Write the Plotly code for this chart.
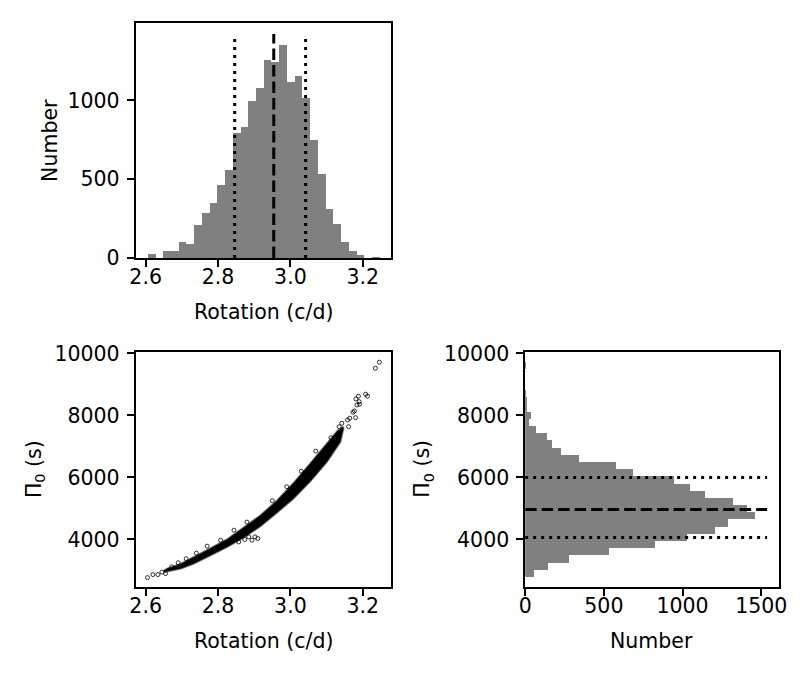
import plotly.graph_objects as go

# ---------------- data ----------------
# Rotation histogram (30 bins)
rot_bin_start = 2.6046
rot_bin_width = 0.021367
rot_counts = [27, 0, 48, 48, 99, 90, 210, 288, 349, 465, 557, 795, 829, 995, 1081,
              1258, 1245, 1353, 1115, 1151, 1016, 747, 532, 311, 219, 99, 48, 21, 0, 8]
rot_quantiles = [2.846, 2.954, 3.042]      # 16%, 50%, 84%
rot_line_top = 1420

# Pi0 histogram (30 bins, horizontal)
pi_bin_start = 2790
pi_bin_width = 231.5
pi_counts = [57, 145, 278, 536, 827, 1029, 1206, 1287, 1464, 1411, 1323, 1142, 1048, 947, 688,
             581, 341, 231, 170, 139, 69, 25, 36, 8, 7, 6, 0, 0, 0, 4]
pi_quantiles = [4065, 4969, 5997]
pi_line_right = 1537

# Dense core of the scatter cloud (upper and lower edge of the band)
band_rot_upper = [2.650, 2.660, 2.697, 2.733, 2.779, 2.825, 2.871, 2.917, 2.963, 3.009, 3.055, 3.101, 3.130, 3.146]
band_pi_upper = [2990, 3063, 3210, 3440, 3710, 4000, 4390, 4770, 5250, 5820, 6450, 7110, 7500, 7630]
band_rot_lower = [3.146, 3.138, 3.101, 3.055, 3.009, 2.963, 2.917, 2.871, 2.825, 2.779, 2.733, 2.697, 2.660, 2.650]
band_pi_lower = [7560, 7150, 6510, 5880, 5330, 4870, 4430, 4065, 3760, 3490, 3224, 3063, 2985, 2950]

# Sparse samples around the band
sc_rot = [2.605, 2.620, 2.634, 2.655, 2.645, 2.672, 2.690, 2.712, 2.740, 2.770, 2.807, 2.844,
          2.857, 2.874, 2.885, 2.894, 2.902, 2.910, 2.880, 2.950, 2.990, 3.030, 3.070, 3.090,
          3.112, 3.135, 3.142, 3.161, 3.158, 3.164, 3.173, 3.180, 3.177, 3.184, 3.190, 3.191,
          3.181, 3.188, 3.208, 3.213, 3.235, 3.246]
sc_pi = [2772, 2869, 2869, 2901, 2950, 3120, 3250, 3380, 3560, 3784, 3977, 4300,
         3922, 4000, 4084, 3977, 4084, 4032, 4560, 5250, 5700, 6200, 6850, 6700,
         7283, 7638, 7748, 7638, 7855, 7910, 8103, 7929, 8145, 8339, 8446, 8362,
         8533, 8620, 8685, 8620, 9525, 9719]

rot_ticks = [2.6, 2.8, 3.0, 3.2]
rot_ticklabels = ["2.6", "2.8", "3.0", "3.2"]
num_ticks_top = [0, 500, 1000]
pi_ticks = [4000, 6000, 8000, 10000]
pi_ticklabels = ["4000", "6000", "8000", "10000"]
num_ticks_right = [0, 500, 1000, 1500]

rot_range = [2.572, 3.277]
pi_range = [2460, 10042]
# ----------------------------------------------------------------

W, H = 810, 675
# the photographed page appears slightly inset/scaled; compensate
SX, OX = 0.985, 5.0
SY, OY = 0.967, 10.0
FONT = "DejaVu Sans"
FS = 20.5
GRAY = "#808080"
LW = 1.6


def px(x):
    return (x - OX) / SX / W


def py(y):
    return 1 - (y - OY) / SY / H


rot_centers = [rot_bin_start + (i + 0.5) * rot_bin_width for i in range(len(rot_counts))]
pi_centers = [pi_bin_start + (i + 0.5) * pi_bin_width for i in range(len(pi_counts))]

fig = go.Figure()

# top-left histogram
fig.add_trace(go.Bar(x=rot_centers, y=rot_counts, width=rot_bin_width,
                     marker=dict(color=GRAY, line=dict(width=0)),
                     xaxis="x", yaxis="y", showlegend=False))
for q, dash in zip(rot_quantiles, ["3px,5px", "11.5px,5px", "3px,5px"]):
    fig.add_trace(go.Scatter(x=[q, q], y=[0, rot_line_top], mode="lines",
                             line=dict(color="black", width=3, dash=dash),
                             xaxis="x", yaxis="y", showlegend=False))

# bottom-left scatter
fig.add_trace(go.Scatter(x=band_rot_upper + band_rot_lower,
                         y=band_pi_upper + band_pi_lower,
                         mode="lines", fill="toself", fillcolor="black",
                         line=dict(color="rgba(0,0,0,0.6)", width=2),
                         xaxis="x2", yaxis="y2", showlegend=False))
fig.add_trace(go.Scatter(x=sc_rot, y=sc_pi, mode="markers",
                         marker=dict(symbol="circle-open", size=4, color="rgba(0,0,0,0.8)",
                                     line=dict(width=1)),
                         xaxis="x2", yaxis="y2", showlegend=False))

# bottom-right histogram
fig.add_trace(go.Bar(y=pi_centers, x=pi_counts, width=pi_bin_width, orientation="h",
                     marker=dict(color=GRAY, line=dict(width=0)),
                     xaxis="x3", yaxis="y3", showlegend=False))
for q, dash in zip(pi_quantiles, ["3px,5px", "11.5px,5px", "3px,5px"]):
    fig.add_trace(go.Scatter(x=[0, pi_line_right], y=[q, q], mode="lines",
                             line=dict(color="black", width=3, dash=dash),
                             xaxis="x3", yaxis="y3", showlegend=False))


def ax(domain, rng, tickvals, ticktext, anchor, standoff):
    return dict(domain=domain, range=rng, tickvals=tickvals, ticktext=ticktext,
                showgrid=False, zeroline=False,
                showline=True, mirror=True, linecolor="black", linewidth=LW,
                ticks="outside", ticklen=7, tickwidth=LW, tickcolor="black",
                tickfont=dict(family=FONT, size=FS, color="black"),
                ticklabelstandoff=standoff, anchor=anchor)


x_left = [px(134), px(390)]
x_right = [px(525), px(780)]
y_top = [py(258), py(23)]
y_bot = [py(587), py(352)]
XS, YS = -8, 3

fig.update_layout(
    autosize=True,
    margin=dict(l=0, r=0, t=0, b=0),
    paper_bgcolor="white", plot_bgcolor="white",
    bargap=0,
    xaxis=ax(x_left, rot_range, rot_ticks, rot_ticklabels, "y", XS),
    yaxis=ax(y_top, [0, 1490], num_ticks_top, [str(v) for v in num_ticks_top], "x", YS),
    xaxis2=ax(x_left, rot_range, rot_ticks, rot_ticklabels, "y2", XS),
    yaxis2=ax(y_bot, pi_range, pi_ticks, pi_ticklabels, "x2", YS),
    xaxis3=ax(x_right, [0, 1614], num_ticks_right, [str(v) for v in num_ticks_right], "y3", XS),
    yaxis3=ax(y_bot, pi_range, pi_ticks, pi_ticklabels, "x3", YS),
)


def label(text, x, y, angle=0):
    fig.add_annotation(text=text, x=px(x), y=py(y), xref="paper", yref="paper",
                       showarrow=False, textangle=angle, xanchor="center", yanchor="middle",
                       font=dict(family=FONT, size=FS, color="black"))


label("Rotation (c/d)", 262, 312)
label("Rotation (c/d)", 262, 641)
label("Number", 652, 641)
label("Number", 48, 140, -90)
label("Π<sub>0</sub> (s)", 33, 469, -90)
label("Π<sub>0</sub> (s)", 423, 469, -90)

fig.write_html("out.html",
               default_width="100vw", default_height="100vh",
               config={"displayModeBar": False, "responsive": True},
               post_script="document.body.style.margin='0';document.body.style.overflow='hidden';"
                           "window.dispatchEvent(new Event('resize'));")
